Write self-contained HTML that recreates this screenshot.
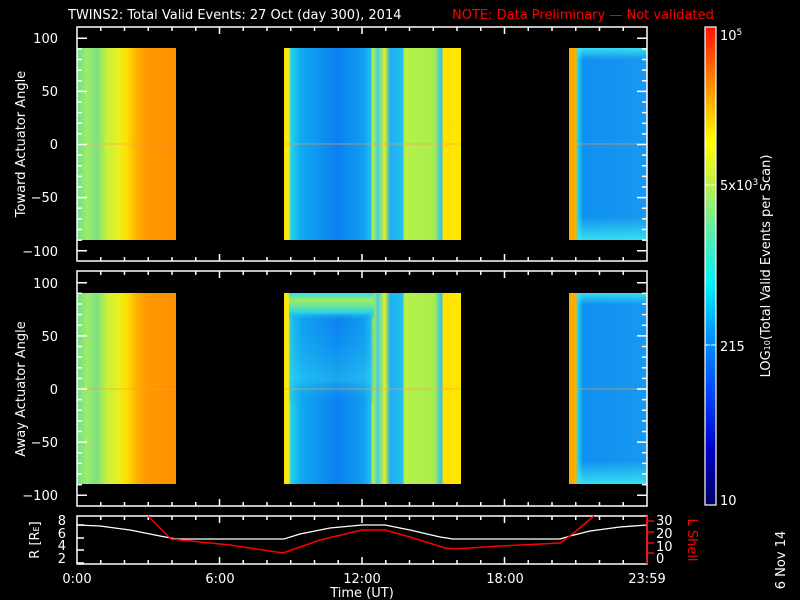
<!DOCTYPE html>
<html><head><meta charset="utf-8"><style>
html,body{margin:0;padding:0;background:#000;}
svg{display:block;}
text{font-family:"DejaVu Sans","Liberation Sans",sans-serif;fill:#fff;font-size:13px;}
</style></head><body>
<svg width="800" height="600" viewBox="0 0 800 600">
<defs>
<linearGradient id="b1" x1="0" x2="1" y1="0" y2="0">
<stop offset="0" stop-color="#6ee08a"/><stop offset="0.1" stop-color="#9cec6a"/><stop offset="0.2" stop-color="#7ee080"/>
<stop offset="0.3" stop-color="#c8f040"/><stop offset="0.42" stop-color="#e8f020"/><stop offset="0.5" stop-color="#ffe000"/>
<stop offset="0.6" stop-color="#ffb000"/><stop offset="0.7" stop-color="#ff9a00"/><stop offset="1" stop-color="#ff9000"/>
</linearGradient>
<linearGradient id="b2" x1="0" x2="1" y1="0" y2="0">
<stop offset="0" stop-color="#ffe000"/><stop offset="0.025" stop-color="#f0f020"/><stop offset="0.04" stop-color="#20d0f0"/>
<stop offset="0.1" stop-color="#10a8f0"/><stop offset="0.3" stop-color="#0a80f0"/><stop offset="0.45" stop-color="#10a0f0"/>
<stop offset="0.49" stop-color="#20c0f0"/><stop offset="0.5" stop-color="#c0f040"/><stop offset="0.53" stop-color="#40d0e0"/>
<stop offset="0.57" stop-color="#e0f020"/><stop offset="0.6" stop-color="#20b0f0"/><stop offset="0.67" stop-color="#20c0f0"/>
<stop offset="0.68" stop-color="#b8f048"/><stop offset="0.85" stop-color="#a8ee50"/><stop offset="0.89" stop-color="#30c0f0"/>
<stop offset="0.9" stop-color="#ffe000"/><stop offset="1" stop-color="#ffe800"/>
</linearGradient>
<linearGradient id="b3" x1="0" x2="1" y1="0" y2="0">
<stop offset="0" stop-color="#ffa800"/><stop offset="0.09" stop-color="#ffb000"/><stop offset="0.11" stop-color="#20d8f0"/>
<stop offset="0.18" stop-color="#1090f0"/><stop offset="1" stop-color="#1898f0"/>
</linearGradient>
<linearGradient id="v1" x1="0" x2="0" y1="0" y2="1">
<stop offset="0" stop-color="#40f0f0" stop-opacity="0.8"/><stop offset="0.06" stop-color="#40f0f0" stop-opacity="0"/>
<stop offset="0.88" stop-color="#40f0f0" stop-opacity="0"/><stop offset="1" stop-color="#40f0f0" stop-opacity="0.8"/>
</linearGradient>
<linearGradient id="v2" x1="0" x2="0" y1="0" y2="1">
<stop offset="0" stop-color="#30e0f0"/><stop offset="0.04" stop-color="#a0ec60"/><stop offset="0.1" stop-color="#30d8e0"/>
<stop offset="0.14" stop-color="#1090f0" stop-opacity="0.2"/><stop offset="0.45" stop-color="#30d0f0" stop-opacity="0.5"/><stop offset="0.6" stop-color="#1080f0" stop-opacity="0"/>
<stop offset="1" stop-color="#1080f0" stop-opacity="0"/>
</linearGradient>
<linearGradient id="cb" x1="0" x2="0" y1="1" y2="0">
<stop offset="0" stop-color="#000060"/><stop offset="0.12" stop-color="#0000d0"/><stop offset="0.25" stop-color="#0050ff"/>
<stop offset="0.37" stop-color="#00a0ff"/><stop offset="0.46" stop-color="#00f0ff"/><stop offset="0.58" stop-color="#60f0a0"/>
<stop offset="0.68" stop-color="#c8f040"/><stop offset="0.76" stop-color="#ffff00"/><stop offset="0.86" stop-color="#ffa000"/>
<stop offset="1" stop-color="#ff1000"/>
</linearGradient>
</defs>

<text x="68" y="19" font-size="14">TWINS2: Total Valid Events: 27 Oct (day 300), 2014</text>
<text x="452" y="19" font-size="14" style="fill:#ff0000">NOTE: Data Preliminary — Not validated</text>

<!-- panel 1 -->
<rect x="77" y="48" width="99" height="192" fill="url(#b1)"/>
<rect x="284" y="48" width="177" height="192" fill="url(#b2)"/>
<rect x="569" y="48" width="78" height="192" fill="url(#b3)"/>
<rect x="577" y="48" width="70" height="192" fill="url(#v1)"/>
<g fill="#ffa040" opacity="0.3"><rect x="77" y="143" width="99" height="2"/><rect x="284" y="143" width="177" height="2"/><rect x="569" y="143" width="78" height="2"/></g>
<rect x="77" y="27" width="570" height="234" fill="none" stroke="#fff" stroke-width="1.5"/>
<!-- panel 2 -->
<rect x="77" y="293" width="99" height="191" fill="url(#b1)"/>
<rect x="284" y="293" width="177" height="191" fill="url(#b2)"/>
<rect x="289" y="293" width="85" height="191" fill="url(#v2)"/>
<rect x="569" y="293" width="78" height="191" fill="url(#b3)"/>
<rect x="577" y="293" width="70" height="191" fill="url(#v1)"/>
<g fill="#ffa040" opacity="0.3"><rect x="77" y="388" width="99" height="2"/><rect x="284" y="388" width="177" height="2"/><rect x="569" y="388" width="78" height="2"/></g>
<rect x="77" y="271" width="570" height="235" fill="none" stroke="#fff" stroke-width="1.5"/>

<g id="ticks" stroke="#fff" stroke-width="1.5"></g>

<text x="58" y="43" text-anchor="end">100</text>
<text x="58" y="96" text-anchor="end">50</text>
<text x="58" y="149" text-anchor="end">0</text>
<text x="58" y="202" text-anchor="end">−50</text>
<text x="58" y="256" text-anchor="end">−100</text>
<text x="58" y="288" text-anchor="end">100</text>
<text x="58" y="341" text-anchor="end">50</text>
<text x="58" y="394" text-anchor="end">0</text>
<text x="58" y="447" text-anchor="end">−50</text>
<text x="58" y="500" text-anchor="end">−100</text>
<text transform="translate(25,144) rotate(-90)" text-anchor="middle">Toward Actuator Angle</text>
<text transform="translate(25,389) rotate(-90)" text-anchor="middle">Away Actuator Angle</text>

<!-- bottom panel -->
<rect x="77" y="516" width="570" height="48" fill="none" stroke="#fff" stroke-width="1.5"/>
<polyline fill="none" stroke="#fff" stroke-width="1.3" points="77,525 100,526 130,530 160,536 176,539 284,539 300,534 330,528 362,525 385,525 410,530 440,537 453,539 560,539 570,536 590,531 620,527 647,525"/>
<polyline fill="none" stroke="#f00" stroke-width="1.5" points="148,516 171,539 230,545 283,553 320,540 362,530 385,530 410,537 445,548 455,549 500,546 560,543 575,532 594,516"/>
<g stroke="#f00" stroke-width="1.5"><line x1="647" y1="516" x2="647" y2="564"/><line x1="647" y1="521" x2="654" y2="521"/><line x1="647" y1="532" x2="654" y2="532"/><line x1="647" y1="543" x2="654" y2="543"/><line x1="647" y1="553" x2="654" y2="553"/></g>
<g font-size="12"><text x="66" y="525" text-anchor="end">8</text><text x="66" y="538" text-anchor="end">6</text><text x="66" y="550" text-anchor="end">4</text><text x="66" y="563" text-anchor="end">2</text></g>
<g font-size="12" style="fill:#f00"><text x="656" y="525">30</text><text x="656" y="538">20</text><text x="656" y="551">10</text><text x="656" y="563">0</text></g>
<text transform="translate(39,540) rotate(-90)" text-anchor="middle" font-size="12">R [R<tspan font-size="8">E</tspan>]</text>
<text transform="translate(688,540) rotate(90)" text-anchor="middle" font-size="12" style="fill:#f00">L Shell</text>
<g font-size="13"><text x="77" y="583" text-anchor="middle">0:00</text><text x="220" y="583" text-anchor="middle">6:00</text><text x="362" y="583" text-anchor="middle">12:00</text><text x="505" y="583" text-anchor="middle">18:00</text><text x="647" y="583" text-anchor="middle">23:59</text></g>
<text x="362" y="597" text-anchor="middle" font-size="13">Time (UT)</text>
<text transform="translate(785,560) rotate(-90)" text-anchor="middle" font-size="9">6 Nov 14</text>

<!-- colorbar -->
<rect x="705" y="27" width="11" height="478" fill="url(#cb)" stroke="#fff" stroke-width="1.2"/>
<g stroke="#fff" stroke-width="1"><line x1="705" y1="185" x2="710" y2="185"/><line x1="711" y1="185" x2="716" y2="185"/><line x1="705" y1="345" x2="710" y2="345"/><line x1="711" y1="345" x2="716" y2="345"/></g>
<g font-size="12"><text x="720" y="40">10<tspan font-size="9" dy="-5">5</tspan></text>
<text x="720" y="190">5x10<tspan font-size="9" dy="-5">3</tspan></text>
<text x="720" y="351">215</text><text x="720" y="505">10</text></g>
<text transform="translate(770,266) rotate(-90)" text-anchor="middle" font-size="13">LOG<tspan font-size="8">10</tspan>(Total Valid Events per Scan)</text>
</svg>
<script>
var g=document.getElementById('ticks'),s='';
function L(a,b,c,d){s+='<line x1="'+a+'" y1="'+b+'" x2="'+c+'" y2="'+d+'"/>';}
[[27,261,144.5],[271,506,389]].forEach(function(p){
 for(var v=-100;v<=100;v+=10){var y=p[2]-v*1.0625;var l=(v%50==0)?10:5;L(77,y,77+l,y);L(647,y,647-l,y);}
 for(var h=1;h<24;h++){var x=77+h*23.75;var l=(h%6==0)?7:4;L(x,p[0],x,p[0]+l);L(x,p[1],x,p[1]-l);}
});
for(var h=1;h<24;h++){var x=77+h*23.75;var l=(h%6==0)?7:4;L(x,516,x,516+l);L(x,564,x,564-l);}
[525,538,550,563].forEach(function(y){L(77,y,84,y);});
g.innerHTML=s;
</script>
</body></html>
